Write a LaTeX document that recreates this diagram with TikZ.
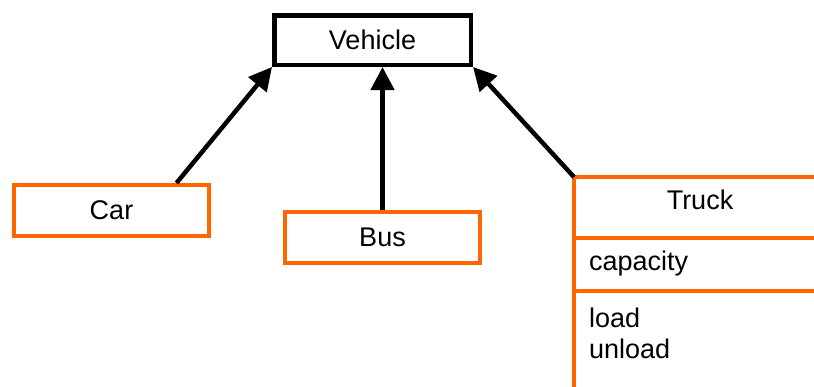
\documentclass[tikz,border=0pt]{standalone}
\usepackage{fontspec}
\setmainfont{Liberation Sans}
\usetikzlibrary{arrows.meta}
\definecolor{umlorange}{HTML}{FF6600}
\begin{document}
\begin{tikzpicture}[x=1pt,y=-1pt,
  txt/.style={font=\fontsize{27}{31}\selectfont, inner sep=0pt},
  cls/.style={txt, draw=umlorange, line width=4pt, minimum width=195pt, minimum height=51pt, text depth=0pt},
  base/.style={txt, draw=black, line width=4.5pt, minimum width=196.5pt, minimum height=49.5pt, text depth=0pt},
  inh/.style={draw=black, line width=4.5pt, -{Triangle[length=23pt,width=23pt]}},
  sep/.style={draw=umlorange, line width=4pt}
]
\useasboundingbox (0,0) rectangle (814,386);
\begin{scope}
\clip (0,0) rectangle (814,386);
\node[base] (vehicle) at (372.5,40) {Vehicle};
\node[cls] (car) at (111.5,210.5) {Car};
\node[cls] (bus) at (382.5,237.5) {Bus};
% Truck class (extends beyond the picture)
\coordinate (tk) at (574,177);
\coordinate (tkr) at (830,177);
\coordinate (tkb) at (574,400);
\coordinate (s1l) at (574,237.5);
\coordinate (s1r) at (830,237.5);
\coordinate (s2l) at (574,290.5);
\coordinate (s2r) at (830,290.5);
\draw[sep] (tkb) -- (tk) -- (tkr);
\draw[sep] (s1l) -- (s1r);
\draw[sep] (s2l) -- (s2r);
\node[txt, text depth=0pt] (truck) at (700,200) {Truck};
\node[txt, anchor=base west] (capacity) at (589,270) {capacity};
\node[txt, anchor=base west] (load) at (589,327) {load};
\node[txt, anchor=base west] (unload) at (589,358) {unload};
% inheritance arrows
\draw[inh] ([xshift=65pt]car.north) -- (vehicle.south west);
\draw[inh] (bus.north) -- (bus.north |- vehicle.south);
\draw[inh] (tk) -- (vehicle.south east);
\end{scope}
\end{tikzpicture}
\end{document}
